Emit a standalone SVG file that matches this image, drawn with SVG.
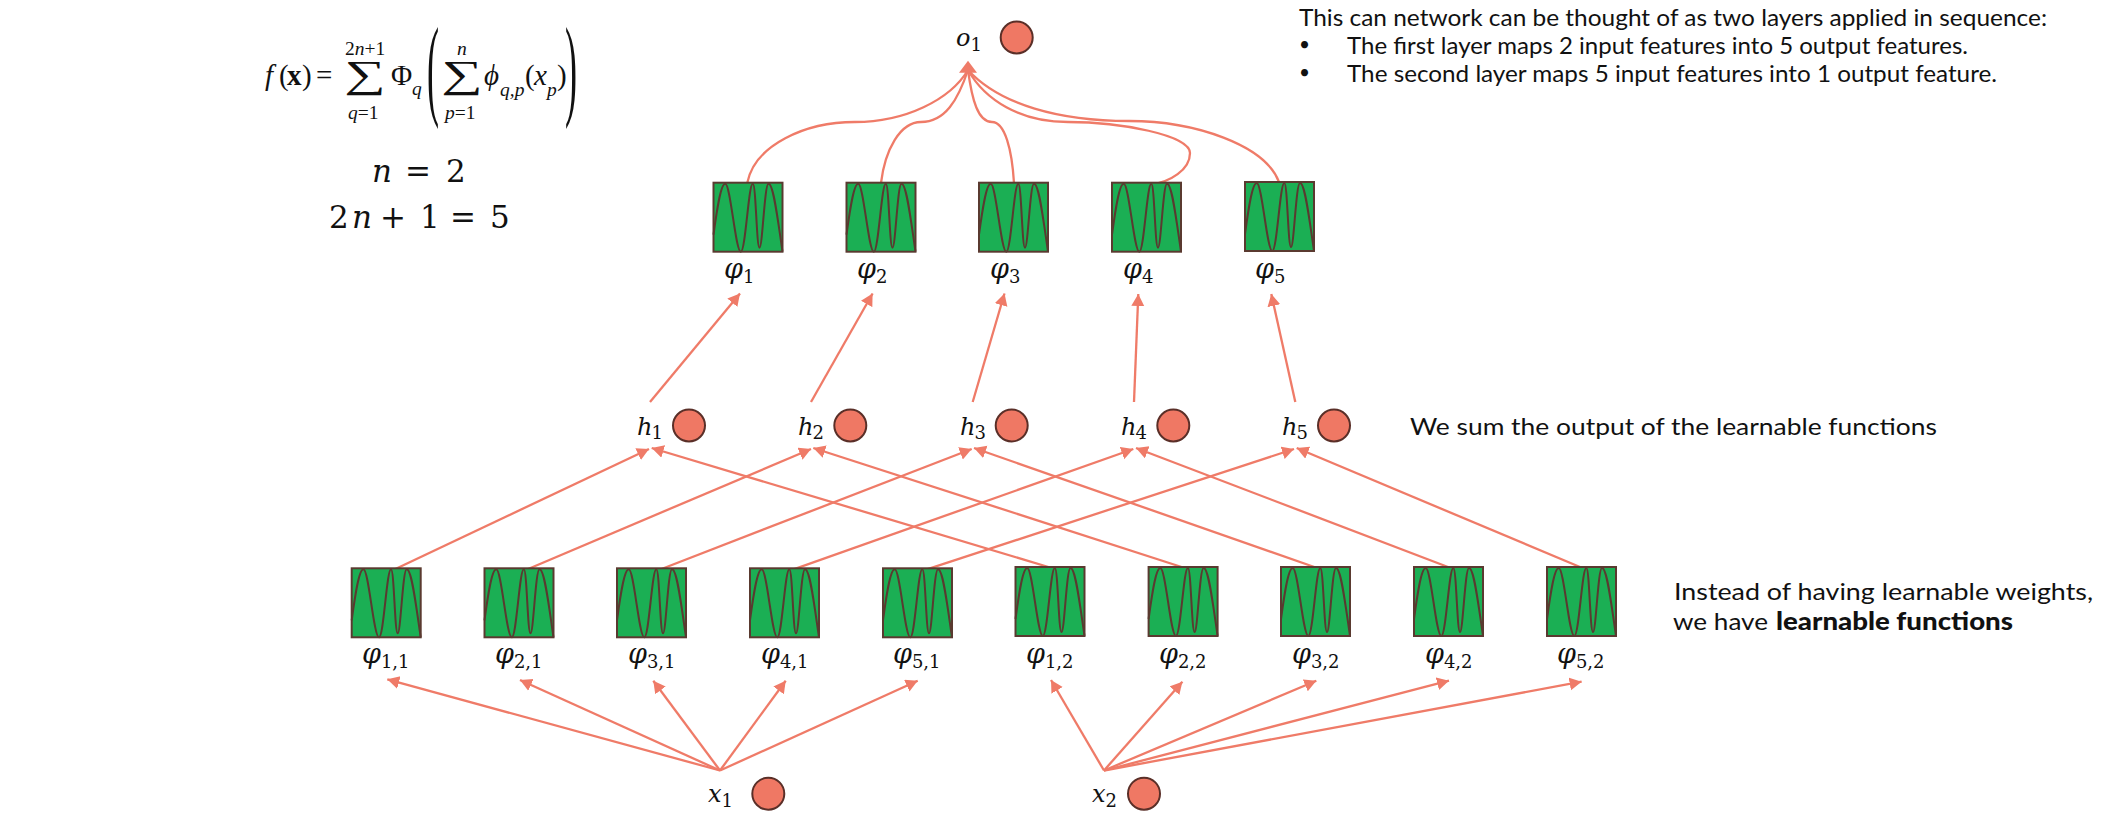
<svg xmlns="http://www.w3.org/2000/svg" width="2116" height="820" viewBox="0 0 2116 820">
<style>
.e{fill:none;stroke:#ef7b68;stroke-width:2.3}
.a{marker-end:url(#ah)}
.n{fill:#ef7864;stroke:#5a2f28;stroke-width:2}
.m{font-family:"DejaVu Serif",serif;font-style:italic;font-size:24px;fill:#111}
.p{font-size:27px}
.s{font-style:normal;font-size:18px}
.f{font-family:"Liberation Serif",serif;fill:#111;font-size:29px}
.i{font-style:italic}
.b{font-weight:bold}
.u{font-size:19.5px}
.g{font-size:58px}
.t{font-family:Lato,"Noto Sans",sans-serif;fill:#111;font-size:24px}
.eq{font-family:"DejaVu Serif",serif;fill:#111;font-size:31px}
</style>
<defs>
<marker id="ah" markerUnits="userSpaceOnUse" markerWidth="14" markerHeight="14" refX="12" refY="6.5" orient="auto"><polygon points="0,0 12,6.5 0,13" fill="#ef7b68"/></marker>
<g id="fn">
<rect x="0" y="0" width="69" height="69" fill="#1baf54" stroke="#5a3a30" stroke-width="2"/>
<path d="M0 52C3 30 7 1 11.7 1C17 1 22 69 27.3 69C32 69 35 1 39.3 1C42.5 1 43 65 46 65C49 65 51 1 55 1C60 1 64 35 69 69" fill="none" stroke="#5a3a30" stroke-width="2"/>
</g>
</defs>
<g id="connectors">
<path class="e a" d="M720 770.5L387.3 679.3"/>
<path class="e a" d="M720 770.5L520 680"/>
<path class="e a" d="M720 770.5L653.3 680.7"/>
<path class="e a" d="M720 770.5L785.7 680.7"/>
<path class="e a" d="M720 770.5L917.7 680.7"/>
<path class="e a" d="M1104 770.5L1051 680"/>
<path class="e a" d="M1104 770.5L1182.4 681.7"/>
<path class="e a" d="M1104 770.5L1316.3 680.7"/>
<path class="e a" d="M1104 770.5L1449 680.7"/>
<path class="e a" d="M1104 770.5L1581.6 681.7"/>
<path class="e a" d="M391.7 570.7L649 449"/>
<path class="e a" d="M524 570.7L811 449"/>
<path class="e a" d="M657 570.7L971.7 449"/>
<path class="e a" d="M790 570.7L1133.3 449"/>
<path class="e a" d="M923 570.7L1294 449"/>
<path class="e a" d="M1055 569L651.7 448"/>
<path class="e a" d="M1187.8 569L813.3 448"/>
<path class="e a" d="M1320 569L974 448"/>
<path class="e a" d="M1448 567L1136 448"/>
<path class="e a" d="M1580 567L1296.7 448"/>
<path class="e a" d="M650 402L740 293.5"/>
<path class="e a" d="M811 402L872.6 293.5"/>
<path class="e a" d="M972.7 402L1004.5 293.5"/>
<path class="e a" d="M1134 402L1138.3 294"/>
<path class="e a" d="M1295.3 402L1271.3 294"/>
<path class="e" d="M747.3 182.7C755 145 805 122 855 122C905 122 950 100 968 70"/>
<path class="e" d="M881 183C885 150 900 122 921 122C945 122 958 100 968 70"/>
<path class="e" d="M1014 183C1012 150 1005 122 992 122C978 122 972 100 968 70"/>
<path class="e" d="M968 70C985 100 1020 122 1068 122C1120 122 1190 135 1190 153C1190 170 1170 182 1151 184.5"/>
<path class="e" d="M1279 182C1265 145 1195 121 1129 121C1060 121 1000 105 968 70"/>
<polygon points="968,60.7 977,72.7 959,72.7" fill="#ef7b68"/>
</g>
<g id="phi11"><use href="#fn" x="351.7" y="568.3"/><text class="m p" x="362" y="663">φ<tspan class="s" dy="5">1,1</tspan></text></g>
<g id="phi21"><use href="#fn" x="484.5" y="568.3"/><text class="m p" x="495" y="663">φ<tspan class="s" dy="5">2,1</tspan></text></g>
<g id="phi31"><use href="#fn" x="617" y="568.3"/><text class="m p" x="628" y="663">φ<tspan class="s" dy="5">3,1</tspan></text></g>
<g id="phi41"><use href="#fn" x="750" y="568.3"/><text class="m p" x="761" y="663">φ<tspan class="s" dy="5">4,1</tspan></text></g>
<g id="phi51"><use href="#fn" x="883" y="568.3"/><text class="m p" x="893" y="663">φ<tspan class="s" dy="5">5,1</tspan></text></g>
<g id="phi12"><use href="#fn" x="1015.5" y="567"/><text class="m p" x="1026" y="663">φ<tspan class="s" dy="5">1,2</tspan></text></g>
<g id="phi22"><use href="#fn" x="1148.6" y="567"/><text class="m p" x="1159" y="663">φ<tspan class="s" dy="5">2,2</tspan></text></g>
<g id="phi32"><use href="#fn" x="1281" y="567"/><text class="m p" x="1292" y="663">φ<tspan class="s" dy="5">3,2</tspan></text></g>
<g id="phi42"><use href="#fn" x="1414" y="567"/><text class="m p" x="1425" y="663">φ<tspan class="s" dy="5">4,2</tspan></text></g>
<g id="phi52"><use href="#fn" x="1547" y="567"/><text class="m p" x="1557" y="663">φ<tspan class="s" dy="5">5,2</tspan></text></g>
<g id="phi1"><use href="#fn" x="713.5" y="182.7"/><text class="m p" x="724" y="278">φ<tspan class="s" dy="5">1</tspan></text></g>
<g id="phi2"><use href="#fn" x="846.5" y="182.7"/><text class="m p" x="857" y="278">φ<tspan class="s" dy="5">2</tspan></text></g>
<g id="phi3"><use href="#fn" x="979" y="182.7"/><text class="m p" x="990" y="278">φ<tspan class="s" dy="5">3</tspan></text></g>
<g id="phi4"><use href="#fn" x="1112" y="182.7"/><text class="m p" x="1123" y="278">φ<tspan class="s" dy="5">4</tspan></text></g>
<g id="phi5"><use href="#fn" x="1245" y="182"/><text class="m p" x="1255" y="278">φ<tspan class="s" dy="5">5</tspan></text></g>
<g id="h1"><text class="m" x="637" y="435">h<tspan class="s" dx="-1" dy="4">1</tspan></text><circle class="n" cx="689" cy="425.5" r="16"/></g>
<g id="h2"><text class="m" x="798" y="435">h<tspan class="s" dx="-1" dy="4">2</tspan></text><circle class="n" cx="850.3" cy="425.5" r="16"/></g>
<g id="h3"><text class="m" x="960" y="435">h<tspan class="s" dx="-1" dy="4">3</tspan></text><circle class="n" cx="1011.7" cy="425.5" r="16"/></g>
<g id="h4"><text class="m" x="1121" y="435">h<tspan class="s" dx="-1" dy="4">4</tspan></text><circle class="n" cx="1173.3" cy="425.5" r="16"/></g>
<g id="h5"><text class="m" x="1282" y="435">h<tspan class="s" dx="-1" dy="4">5</tspan></text><circle class="n" cx="1334" cy="425.5" r="16"/></g>
<g id="o1"><text class="m" x="956" y="46">o<tspan class="s" dy="5">1</tspan></text><circle class="n" cx="1016.7" cy="37.5" r="16"/></g>
<g id="x1"><text class="m" x="708" y="802">x<tspan class="s" dy="5">1</tspan></text><circle class="n" cx="768.3" cy="793.7" r="16"/></g>
<g id="x2"><text class="m" x="1092" y="802">x<tspan class="s" dy="5">2</tspan></text><circle class="n" cx="1144" cy="793.7" r="16"/></g>
<g id="formula">
<text class="f" y="85"><tspan class="i" x="265">f</tspan><tspan x="279">(</tspan><tspan class="b" x="287">x</tspan><tspan x="302">)</tspan><tspan x="316">=</tspan></text>
<text class="f u" x="345" y="55">2<tspan class="i">n</tspan>+1</text>
<text class="f g" transform="translate(344 87) scale(1 .66)">∑</text>
<text class="f u" x="348" y="119"><tspan class="i">q</tspan>=1</text>
<text class="f" x="391" y="85">Φ<tspan class="i u" x="412" y="95">q</tspan></text>
<text class="f" transform="translate(427 105) scale(.32 1)" style="font-size:113px">(</text>
<text class="f i u" x="457" y="55">n</text>
<text class="f g" transform="translate(441 87) scale(1 .66)">∑</text>
<text class="f u" x="445" y="119"><tspan class="i">p</tspan>=1</text>
<text class="f" y="85"><tspan class="i" x="484">ϕ</tspan><tspan class="i u" x="500" y="96">q,p</tspan><tspan x="525" y="85">(</tspan><tspan class="i" x="534">x</tspan><tspan class="i u" x="547" y="96">p</tspan><tspan x="557" y="85">)</tspan></text>
<text class="f" transform="translate(565 105) scale(.32 1)" style="font-size:113px">)</text>
</g>
<g id="eq-n"><text class="eq" y="181.7"><tspan class="i" x="372">n</tspan><tspan x="405">=</tspan><tspan x="446">2</tspan></text></g>
<g id="eq-k"><text class="eq" y="227.7"><tspan x="329">2</tspan><tspan class="i" x="352">n</tspan><tspan x="380">+</tspan><tspan x="420">1</tspan><tspan x="450">=</tspan><tspan x="490">5</tspan></text></g>
<g id="notes">
<text class="t" x="1299" y="26" textLength="748" lengthAdjust="spacingAndGlyphs">This can network can be thought of as two layers applied in sequence:</text>
<text class="t" x="1299" y="51" style="font-size:19px">•</text>
<text class="t" x="1347" y="53.5" textLength="621" lengthAdjust="spacingAndGlyphs">The first layer maps 2 input features into 5 output features.</text>
<text class="t" x="1299" y="79" style="font-size:19px">•</text>
<text class="t" x="1347" y="81.5" textLength="650" lengthAdjust="spacingAndGlyphs">The second layer maps 5 input features into 1 output feature.</text>
<text class="t" x="1410" y="435" textLength="527" lengthAdjust="spacingAndGlyphs">We sum the output of the learnable functions</text>
<text class="t" x="1674" y="600" textLength="419" lengthAdjust="spacingAndGlyphs">Instead of having learnable weights,</text>
<text class="t" x="1673" y="630" textLength="95" lengthAdjust="spacingAndGlyphs">we have</text>
<text class="t" x="1776" y="630" textLength="237" lengthAdjust="spacingAndGlyphs" style="font-weight:900">learnable functions</text>
</g>
</svg>
